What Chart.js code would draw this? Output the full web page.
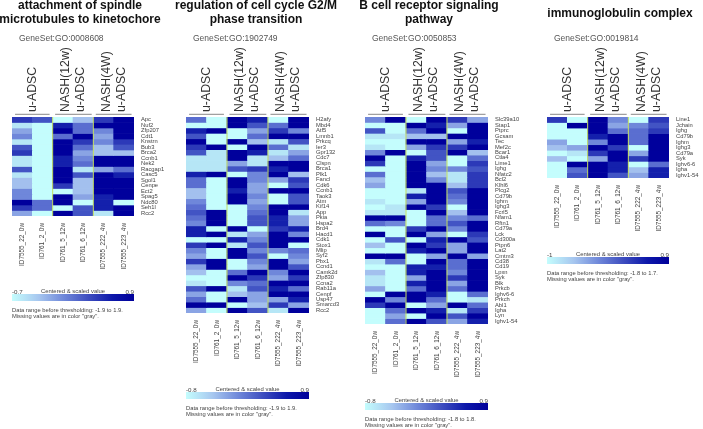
<!DOCTYPE html>
<html lang="en">

<head>
    <meta charset="UTF-8">
    <title>GO gene set heatmaps</title>
    <script src="https://cdn.jsdelivr.net/npm/chart.js"></script>
    <style>
        body {
            margin: 0;
            background: #fff;
            font-family: "Liberation Sans", Arial, sans-serif;
        }

        #page {
            position: relative;
            width: 703px;
            height: 429px;
            overflow: hidden;
            filter: blur(0.35px);
        }

        canvas,
        .txt,
        .bar {
            position: absolute;
        }

        .txt {
            white-space: nowrap;
            transform: translateY(-50%);
        }

        .title {
            font-size: 12px;
            font-weight: bold;
            color: #111;
            transform: translate(-50%, -50%);
        }

        .small {
            font-size: 5.9px;
            color: #444;
        }

        .bar {
            background: linear-gradient(to right, #c4fdfd 0%, #a6c6ef 22%, #7089da 42%, #3f4fc0 62%, #0d18aa 82%, #00009a 100%);
        }
    </style>
</head>

<body>
    <div id="page"></div>

    <script>
        const samples = ['ID7555_22_0w', 'ID761_2_0w', 'ID761_5_12w', 'ID761_6_12w', 'ID7555_222_4w', 'ID7555_223_4w'];
        const groups = [['u-ADSC'], ['NASH(12w)', 'u-ADSC'], ['NASH(4W)', 'u-ADSC']];

        // cell values are read as a level on the colour bar: 0 = lightest, 9 = darkest
        const spindleGenes = ['Apc', 'Nuf2', 'Zfp207', 'Cdt1', 'Knstrn', 'Bub3', 'Brca2', 'Ccnb1', 'Nek2', 'Racgap1', 'Casc5', 'Sgol1', 'Cenpe', 'Ect2', 'Spag5', 'Ndc80', 'Seh1l', 'Rcc2'];
        const spindleCells = [
            [7, 6, 0, 2, 7, 9], [1, 0, 8, 5, 9, 9], [3, 0, 9, 5, 4, 9], [4, 0, 5, 9, 3, 9], [1, 0, 9, 7, 4, 7], [6, 0, 9, 5, 2, 6],
            [7, 0, 9, 3, 2, 2], [1, 0, 8, 4, 9, 9], [1, 0, 8, 5, 9, 9], [6, 0, 9, 1, 3, 5], [1, 0, 9, 6, 9, 8], [2, 0, 9, 2, 9, 9],
            [2, 0, 7, 2, 9, 9], [4, 0, 0, 2, 9, 9], [4, 0, 9, 3, 8, 9], [9, 5, 9, 0, 8, 0], [7, 5, 0, 6, 8, 9], [3, 0, 9, 6, 1, 9]
        ];

        const cycleGenes = ['H2afy', 'Mbd4', 'Atf5', 'Lmnb1', 'Prkcq', 'Ier3', 'Gpr132', 'Cdc7', 'Clspn', 'Brca1', 'Plk1', 'Fancl', 'Cdk6', 'Ccnb1', 'Taok3', 'Atm', 'Kif14', 'App', 'Pkia', 'Hspa2', 'Brd4', 'Hacd1', 'Cdk1', 'Stox1', 'Mlip', 'Syf2', 'Pbx1', 'Ccnd1', 'Camk2d', 'Zfp830', 'Ccna2', 'Rab11a', 'Cenpf', 'Usp47', 'Smarcd3', 'Rcc2'];
        const cycleCells = [
            [5, 0, 9, 8, 0, 9], [0, 0, 9, 6, 5, 9], [8, 9, 0, 3, 7, 4], [6, 0, 0, 5, 9, 9], [9, 0, 9, 2, 1, 6], [7, 9, 0, 9, 5, 1],
            [6, 1, 9, 8, 1, 3], [1, 1, 9, 1, 2, 5], [1, 1, 3, 1, 9, 9], [1, 1, 6, 7, 8, 9], [8, 9, 0, 4, 9, 2], [5, 0, 9, 4, 3, 7],
            [5, 0, 9, 3, 0, 6], [2, 0, 8, 3, 9, 9], [2, 0, 9, 4, 0, 6], [4, 0, 9, 3, 0, 6], [5, 0, 0, 4, 9, 9], [6, 9, 0, 5, 9, 1],
            [5, 9, 0, 6, 8, 3], [4, 9, 0, 6, 8, 3], [8, 0, 9, 0, 7, 8], [8, 9, 1, 3, 9, 4], [0, 0, 8, 4, 9, 9], [7, 9, 1, 6, 9, 0],
            [4, 0, 9, 4, 4, 5], [3, 0, 9, 6, 0, 4], [7, 9, 0, 4, 9, 3], [3, 9, 0, 3, 9, 6], [2, 0, 5, 9, 4, 9], [0, 0, 9, 7, 3, 7],
            [1, 0, 4, 5, 9, 9], [6, 9, 1, 6, 8, 5], [3, 0, 2, 3, 9, 9], [5, 0, 9, 3, 3, 8], [9, 9, 0, 2, 7, 3], [3, 0, 9, 6, 1, 9]
        ];

        const bcellGenes = ['Slc39a10', 'Stap1', 'Ptprc', 'Gcsam', 'Tec', 'Mef2c', 'Bcar1', 'Ctla4', 'Lime1', 'Ighg', 'Nfatc2', 'Bcl2', 'Klhl6', 'Plcg2', 'Cd79b', 'Ighm', 'Ighg3', 'Fcrl5', 'Nfam1', 'Rftn1', 'Cd79a', 'Lck', 'Cd300a', 'Ptpn6', 'Lat2', 'Cmtm3', 'Cd38', 'Cd19', 'Lpxn', 'Syk', 'Blk', 'Prkcb', 'Ighv6-6', 'Prkch', 'Abl1', 'Igha', 'Lyn', 'Ighv1-54'];
        const bcellCells = [
            [4, 9, 0, 9, 7, 3], [0, 0, 9, 8, 3, 9], [6, 0, 5, 9, 0, 9], [1, 1, 2, 2, 9, 9], [0, 0, 9, 9, 3, 8], [1, 0, 3, 7, 7, 9],
            [4, 9, 0, 6, 9, 2], [9, 0, 8, 6, 0, 5], [7, 0, 9, 3, 0, 7], [0, 0, 9, 4, 4, 6], [5, 0, 9, 2, 1, 7], [2, 0, 9, 4, 1, 7],
            [3, 0, 9, 9, 2, 7], [0, 0, 1, 9, 6, 9], [0, 0, 8, 9, 5, 9], [1, 0, 3, 9, 4, 9], [0, 1, 9, 7, 0, 9], [1, 1, 0, 9, 2, 9],
            [9, 9, 0, 5, 4, 5], [5, 4, 0, 5, 6, 9], [0, 0, 7, 9, 4, 9], [9, 0, 9, 3, 0, 7], [0, 6, 0, 8, 9, 6], [2, 0, 9, 7, 3, 9],
            [0, 0, 8, 9, 3, 9], [9, 9, 0, 3, 9, 3], [1, 5, 0, 9, 5, 9], [0, 0, 8, 8, 5, 9], [2, 0, 8, 9, 4, 9], [1, 0, 3, 9, 7, 9],
            [1, 0, 8, 9, 3, 9], [3, 0, 5, 9, 5, 9], [0, 9, 9, 8, 0, 5], [9, 4, 9, 5, 0, 1], [7, 9, 0, 3, 9, 5], [0, 5, 9, 8, 1, 7],
            [0, 3, 0, 9, 6, 9], [0, 5, 9, 6, 3, 8]
        ];

        const igGenes = ['Line1', 'Jchain', 'Ighg', 'Cd79b', 'Ighm', 'Ighg3', 'Cd79a', 'Syk', 'Ighv6-6', 'Igha', 'Ighv1-54'];
        const igCells = [
            [7, 0, 9, 4, 0, 7], [0, 9, 9, 3, 4, 6], [0, 0, 9, 5, 5, 7], [0, 0, 8, 9, 5, 9], [3, 0, 4, 9, 5, 9], [2, 3, 9, 7, 0, 9],
            [0, 1, 7, 9, 3, 9], [2, 0, 3, 9, 7, 9], [0, 9, 9, 8, 0, 5], [0, 5, 9, 8, 2, 8], [0, 6, 9, 6, 3, 8]
        ];

        const levelColors = ['#c4fdfd', '#b6e6f6', '#a3c0ee', '#8aa4e4', '#6f87da', '#5a6ed0', '#4254c4', '#2c39b8', '#1420ac', '#00009c'];

        const page = document.getElementById('page');

        function addText(text, x, y, cls, css) {
            const el = document.createElement('div');
            el.className = 'txt ' + cls;
            el.textContent = text;
            el.style.left = x + 'px';
            el.style.top = y + 'px';
            if (css) el.style.cssText += css;
            page.appendChild(el);
        }

        // column separators, grey brackets and the group names over them
        const decorPlugin = {
            id: 'decor',
            afterDatasetsDraw(chart) {
                const { ctx, chartArea, scales: { x } } = chart;
                ctx.save();
                ctx.lineWidth = 1;
                ctx.strokeStyle = '#c4e060';
                [1.5, 3.5].forEach(v => {
                    ctx.beginPath();
                    ctx.moveTo(x.getPixelForValue(v), chartArea.top);
                    ctx.lineTo(x.getPixelForValue(v), chartArea.bottom);
                    ctx.stroke();
                });
                ctx.strokeStyle = '#a0a0a0';
                ctx.lineWidth = 1.3;
                [[-0.35, 1.35], [1.62, 3.42], [3.62, 5.38]].forEach(g => {
                    ctx.beginPath();
                    ctx.moveTo(x.getPixelForValue(g[0]), chartArea.top - 2.7);
                    ctx.lineTo(x.getPixelForValue(g[1]), chartArea.top - 2.7);
                    ctx.stroke();
                });
                ctx.fillStyle = '#333';
                ctx.font = '12.3px "Liberation Sans", Arial, sans-serif';
                ctx.textAlign = 'left';
                ctx.textBaseline = 'middle';
                groups.forEach((lines, g) => {
                    const cx = x.getPixelForValue(g * 2 + 0.5);
                    lines.forEach((line, i) => {
                        ctx.save();
                        ctx.translate(cx + (i - (lines.length - 1) / 2) * 15, chartArea.top - 5);
                        ctx.rotate(-Math.PI / 2);
                        ctx.fillText(line, 0, 0);
                        ctx.restore();
                    });
                });
                ctx.restore();
            }
        };

        function drawHeatmap(genes, cells, left, width, height) {
            const canvas = document.createElement('canvas');
            const topH = 80, bottomH = 55, rightW = 42;
            canvas.width = width + rightW;
            canvas.height = height + topH + bottomH;
            canvas.style.left = left + 'px';
            canvas.style.top = (117 - topH) + 'px';
            page.appendChild(canvas);

            new Chart(canvas, {
                type: 'bar',
                data: {
                    labels: samples,
                    datasets: genes.map((gene, r) => ({
                        label: gene,
                        data: samples.map(() => 1),
                        backgroundColor: cells[r].map(v => levelColors[v]),
                        barPercentage: 1,
                        categoryPercentage: 1
                    }))
                },
                options: {
                    responsive: false,
                    animation: false,
                    layout: { padding: { top: topH } },
                    plugins: { legend: { display: false }, tooltip: { enabled: false } },
                    scales: {
                        x: {
                            stacked: true,
                            position: 'bottom',
                            grid: { display: false, drawTicks: false },
                            border: { display: false },
                            ticks: { autoSkip: false, minRotation: 90, maxRotation: 90, padding: 7, color: '#444', font: { size: 6.4 } },
                            afterFit: s => { s.height = bottomH; }
                        },
                        y: {
                            stacked: true,
                            reverse: true,
                            min: 0,
                            max: genes.length,
                            display: false
                        },
                        y2: {
                            axis: 'y',
                            type: 'category',
                            position: 'right',
                            labels: genes,
                            offset: true,
                            grid: { display: false, drawTicks: false },
                            border: { display: false },
                            ticks: { autoSkip: false, padding: 7, color: '#444', font: { size: 5.8 } },
                            afterFit: s => { s.width = rightW; }
                        }
                    }
                },
                plugins: [decorPlugin]
            });
        }

        function drawColorBar(left, width, top, low, high, range) {
            addText(low, left, top - 3.5, 'small', 'font-size:6.2px');
            addText('Centered & scaled value', left + width / 2, top - 3.5, 'small', 'transform:translate(-50%,-50%)');
            addText(high, left + width, top - 3.5, 'small', 'font-size:6.2px;transform:translate(-100%,-50%)');
            const bar = document.createElement('div');
            bar.className = 'bar';
            bar.style.left = left + 'px';
            bar.style.top = top + 'px';
            bar.style.width = width + 'px';
            bar.style.height = '7px';
            page.appendChild(bar);
            addText('Data range before thresholding: ' + range, left, top + 15.7, 'small', 'font-size:5.8px');
            addText('Missing values are in color "gray".', left, top + 22.4, 'small', 'font-size:5.8px');
        }

        Chart.defaults.font.family = '"Liberation Sans", Arial, sans-serif';

        addText('attachment of spindle', 80, 5, 'title');
        addText('microtubules to kinetochore', 80, 19, 'title');
        addText('regulation of cell cycle G2/M', 256, 5, 'title');
        addText('phase transition', 256, 19, 'title');
        addText('B cell receptor signaling', 429, 5, 'title');
        addText('pathway', 429, 19, 'title');
        addText('immunoglobulin complex', 620, 12.7, 'title');

        addText('GeneSet:GO:0008608', 19, 37.7, '', 'font-size:8.5px;color:#555');
        addText('GeneSet:GO:1902749', 193, 37.7, '', 'font-size:8.5px;color:#555');
        addText('GeneSet:GO:0050853', 372, 37.7, '', 'font-size:8.5px;color:#555');
        addText('GeneSet:GO:0019814', 554, 37.7, '', 'font-size:8.5px;color:#555');

        drawHeatmap(spindleGenes, spindleCells, 12, 122, 99);
        drawHeatmap(cycleGenes, cycleCells, 186, 123, 196);
        drawHeatmap(bcellGenes, bcellCells, 365, 123, 207);
        drawHeatmap(igGenes, igCells, 547, 122, 61);

        drawColorBar(12, 122, 294, '-0.7', '0.9', '-1.9 to 1.9.');
        drawColorBar(186, 123, 392, '-0.8', '0.9', '-1.9 to 1.9.');
        drawColorBar(365, 123, 403, '-0.8', '0.9', '-1.8 to 1.8.');
        drawColorBar(547, 122, 257, '-1', '0.9', '-1.8 to 1.7.');
    </script>
</body>

</html>
